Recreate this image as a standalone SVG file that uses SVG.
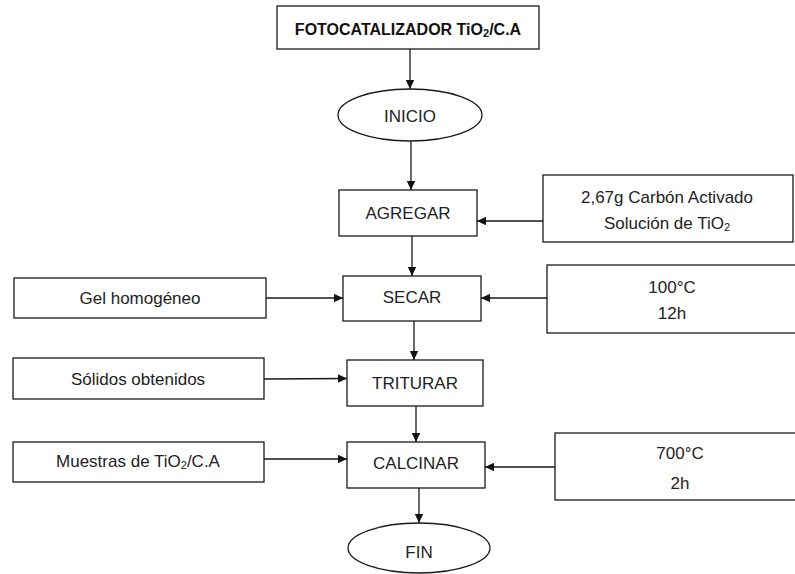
<svg xmlns="http://www.w3.org/2000/svg" width="795" height="574" viewBox="0 0 795 574">
  <style>
    .box { fill: #ffffff; stroke: #1a1a1a; stroke-width: 1.3; }
    .term { fill: #ffffff; stroke: #1a1a1a; stroke-width: 1.3; }
    .lbl { font-family: "Liberation Sans", Arial, sans-serif; font-size: 17px; fill: #222222; text-anchor: middle; dominant-baseline: central; }
    .title { font-weight: bold; font-size: 16px; fill: #111111; }
    .sub { font-size: 11px; }
    .wire { stroke: #1a1a1a; stroke-width: 1.3; fill: none; marker-end: url(#head); }
  </style>
  <defs>
    <marker id="head" markerUnits="userSpaceOnUse" markerWidth="10" markerHeight="10" refX="9" refY="5" orient="auto">
      <path d="M0,0.8 L9,5 L0,9.2 Z" fill="#111111"/>
    </marker>
  </defs>
  <rect width="795" height="574" fill="#ffffff"/>

  <g id="connectors">
    <line class="wire" x1="410" y1="49" x2="410" y2="89"/>
    <line class="wire" x1="411" y1="141" x2="411" y2="190"/>
    <line class="wire" x1="543" y1="221" x2="477" y2="221"/>
    <line class="wire" x1="412" y1="236" x2="412" y2="276"/>
    <line class="wire" x1="266" y1="298" x2="343" y2="298"/>
    <line class="wire" x1="547" y1="298" x2="481" y2="298"/>
    <line class="wire" x1="414" y1="321" x2="414" y2="360"/>
    <line class="wire" x1="264" y1="379" x2="347" y2="378.5"/>
    <line class="wire" x1="416" y1="406" x2="416" y2="442"/>
    <line class="wire" x1="264" y1="459" x2="347" y2="459"/>
    <line class="wire" x1="555" y1="467" x2="485" y2="467"/>
    <line class="wire" x1="419" y1="488" x2="419" y2="523"/>
  </g>

  <g id="fotocatalizador">
    <rect class="box" x="277" y="6" width="262" height="43"/>
    <text class="lbl title" x="408" y="29">FOTOCATALIZADOR TiO<tspan class="sub" dy="4">2</tspan><tspan dy="-4">/C.A</tspan></text>
  </g>

  <g id="inicio">
    <ellipse class="term" cx="410" cy="115" rx="72" ry="26"/>
    <text class="lbl" x="410" y="116">INICIO</text>
  </g>

  <g id="agregar">
    <rect class="box" x="339" y="190" width="138" height="46"/>
    <text class="lbl" x="408" y="213">AGREGAR</text>
  </g>

  <g id="carbon-activado">
    <rect class="box" x="543" y="175" width="250" height="67"/>
    <text class="lbl" x="667" y="197">2,67g Carbón Activado</text>
    <text class="lbl" x="667" y="223">Solución de TiO<tspan class="sub" dy="4">2</tspan></text>
  </g>

  <g id="secar">
    <rect class="box" x="343" y="276" width="138" height="45"/>
    <text class="lbl" x="412" y="297">SECAR</text>
  </g>

  <g id="gel-homogeneo">
    <rect class="box" x="14" y="278" width="252" height="40"/>
    <text class="lbl" x="140" y="298">Gel homogéneo</text>
  </g>

  <g id="secado-condiciones">
    <rect class="box" x="547" y="265" width="252" height="68"/>
    <text class="lbl" x="672" y="287">100°C</text>
    <text class="lbl" x="672" y="313">12h</text>
  </g>

  <g id="triturar">
    <rect class="box" x="347" y="360" width="136" height="46"/>
    <text class="lbl" x="415" y="383">TRITURAR</text>
  </g>

  <g id="solidos-obtenidos">
    <rect class="box" x="13" y="358" width="251" height="41"/>
    <text class="lbl" x="138" y="379">Sólidos obtenidos</text>
  </g>

  <g id="calcinar">
    <rect class="box" x="347" y="442" width="138" height="46"/>
    <text class="lbl" x="416" y="463">CALCINAR</text>
  </g>

  <g id="muestras">
    <rect class="box" x="13" y="442" width="251" height="40"/>
    <text class="lbl" x="138" y="461">Muestras de TiO<tspan class="sub" dy="4">2</tspan><tspan dy="-4">/C.A</tspan></text>
  </g>

  <g id="calcinado-condiciones">
    <rect class="box" x="555" y="433" width="244" height="67"/>
    <text class="lbl" x="680" y="453">700°C</text>
    <text class="lbl" x="680" y="483">2h</text>
  </g>

  <g id="fin">
    <ellipse class="term" cx="419" cy="548" rx="71" ry="25"/>
    <text class="lbl" x="419" y="552">FIN</text>
  </g>
</svg>
